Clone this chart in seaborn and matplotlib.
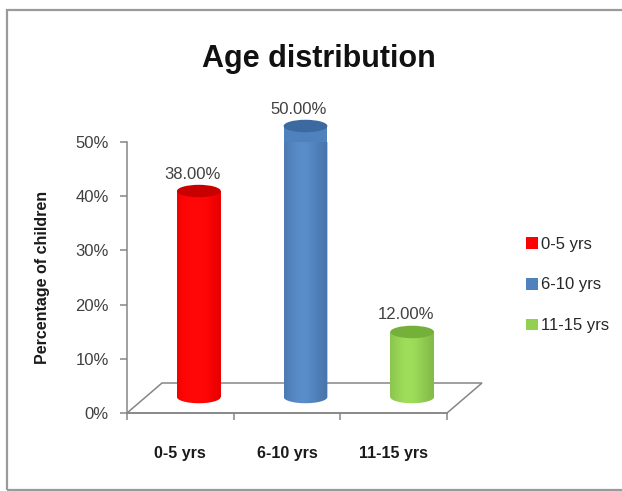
import numpy as np
import matplotlib
matplotlib.use("Agg")
import matplotlib.pyplot as plt
import matplotlib.transforms as mtransforms
import matplotlib.colors as mcolors
from matplotlib.patches import Ellipse, Patch, Polygon, Rectangle
from matplotlib.path import Path
import seaborn as sns

# data
age_groups = ["0-5 yrs", "6-10 yrs", "11-15 yrs"]
percent = [0.38, 0.50, 0.12]
bar_colors = ["#FF0000", "#4F81BD", "#92D050"]
top_colors = ["#C80000", "#3B69A0", "#74B03A"]
y_ticks = [0.0, 0.1, 0.2, 0.3, 0.4, 0.5]

sns.set_theme(style="white")
plt.rcParams["font.family"] = ["Liberation Sans", "DejaVu Sans"]

W, H = 622, 491
fig = plt.figure(figsize=(W / 100, H / 100), dpi=100)
fig.patch.set_facecolor("white")

# outer frame (right edge runs off the picture, as in the original)
fig.add_artist(Rectangle((7 / W, 1 / H), 630 / W, 480 / H, transform=fig.transFigure,
                         fill=False, edgecolor="#9a9a9a", linewidth=1.6))

ax = fig.add_axes([127 / W, (H - 413) / H, 320 / W, (413 - 142) / H])
ax.set_facecolor("none")

sns.barplot(x=age_groups, y=percent, hue=age_groups, palette=bar_colors,
            width=0.41, saturation=1, legend=False, ax=ax, zorder=3)

axis_grey = "#868686"
# 3D depth: bars sit half way back on the floor
bar_trans = ax.transData + mtransforms.ScaledTranslation(0.185, 0.16, fig.dpi_scale_trans)
label_trans = ax.transData + mtransforms.ScaledTranslation(0.12, 0.33, fig.dpi_scale_trans)

ell_h = 0.023
for p, base, top, val in zip(ax.patches, bar_colors, top_colors, percent):
    p.set_transform(bar_trans)
    p.set_clip_on(False)
    p.set_edgecolor("none")
    x0, w, h = p.get_x(), p.get_width(), p.get_height()
    cx = x0 + w / 2

    # silhouette of the cylinder body for the shading gradient
    t = np.linspace(np.pi, 2 * np.pi, 40)
    arc = np.column_stack([cx + w / 2 * np.cos(t), ell_h / 2 * np.sin(t)])
    verts = np.vstack([[x0, h], arc, [x0 + w, h], [x0, h]])
    body = Path(verts)

    rgb = np.array(mcolors.to_rgb(base))
    xs = np.linspace(0, 1, 60)
    shade = np.exp(-((xs - 0.42) / 0.45) ** 2)
    fac = 0.86 + 0.17 * shade
    grad = np.clip(rgb[None, :] * fac[:, None], 0, 1)
    grad = np.clip(grad + 0.03 * shade[:, None], 0, 1)[None, :, :]
    im = ax.imshow(grad, extent=(x0, x0 + w, -ell_h, h), aspect="auto",
                   transform=bar_trans, zorder=3.1, interpolation="bilinear")
    im.set_clip_path(body, transform=bar_trans)

    ax.add_patch(Ellipse((cx, h), w, ell_h, transform=bar_trans, facecolor=top,
                         edgecolor="none", zorder=3.2, clip_on=False))

    ax.text(cx, val, f"{val * 100:.2f}%", transform=label_trans, ha="center",
            va="center", fontsize=12, color="#404040", clip_on=False)

ax.set_xlim(-0.5, 2.5)
ax.set_ylim(0, 0.5)

# floor of the 3D plot
dx, dy = 35 / 320, 30 / 271
ax.add_patch(Polygon([(0, 0), (1, 0), (1 + dx, dy), (dx, dy)], closed=True,
                     transform=ax.transAxes, fill=False, edgecolor=axis_grey,
                     linewidth=1.1, clip_on=False, zorder=1))

for s in ["top", "right"]:
    ax.spines[s].set_visible(False)
for s in ["left", "bottom"]:
    ax.spines[s].set_color(axis_grey)
    ax.spines[s].set_linewidth(1.1)

ax.set_yticks(y_ticks)
ax.set_yticklabels([f"{v:.0%}" for v in y_ticks])
ax.tick_params(axis="y", direction="out", length=5, width=1.1, color=axis_grey,
               pad=8, labelsize=12, labelcolor="#404040", left=True)
ax.set_xticks(range(len(age_groups)))
ax.set_xticklabels(age_groups, fontweight="bold")
ax.set_xticks([-0.5, 0.5, 1.5, 2.5], minor=True)
ax.tick_params(axis="x", which="major", length=0, pad=24, labelsize=11.5,
               labelcolor="#1a1a1a")
ax.tick_params(axis="x", which="minor", direction="out", length=5, width=1.1,
               color=axis_grey, bottom=True)

ax.set_xlabel("")
ax.set_ylabel("Percentage of children", fontsize=11.5, fontweight="bold", color="#1a1a1a")
ax.yaxis.set_label_coords(-0.24, 0.5)

fig.text(319 / W, 1 - 67 / H, "Age distribution", ha="center", va="baseline",
         fontsize=22, fontweight="bold", color="#111111")

handles = [Patch(facecolor=c, edgecolor="none") for c in bar_colors]
fig.legend(handles, age_groups, loc="center left", bbox_to_anchor=(518 / W, 1 - 285 / H),
           frameon=False, fontsize=12, handlelength=0.7, handleheight=0.7,
           handletextpad=0.2, labelspacing=1.55, borderpad=0, labelcolor="#262626")

fig.savefig("out.png", dpi=100)
